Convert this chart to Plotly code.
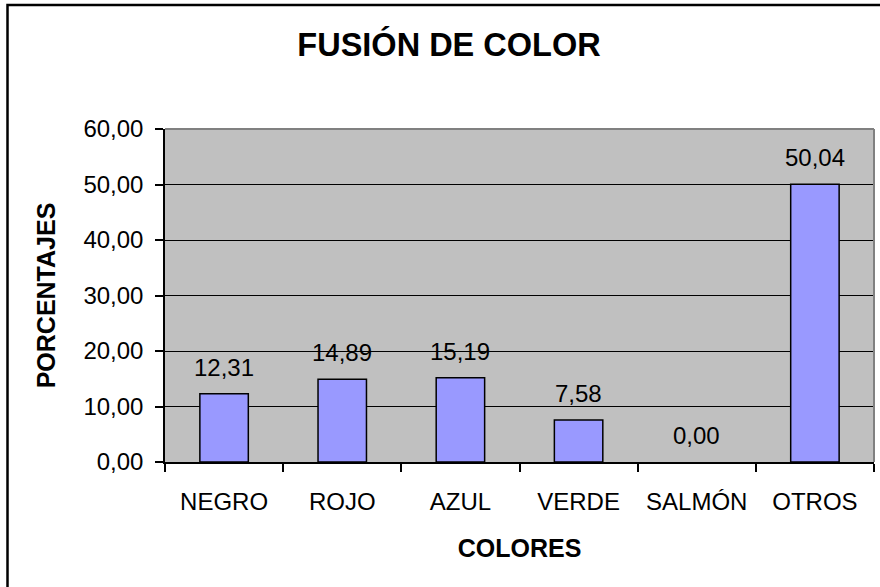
import plotly.graph_objects as go

categories = ["NEGRO", "ROJO", "AZUL", "VERDE", "SALMÓN", "OTROS"]
values = [12.31, 14.89, 15.19, 7.58, 0.00, 50.04]
title_text = "FUSIÓN DE COLOR"
x_title = "COLORES"
y_title = "PORCENTAJES"

W, H = 880, 587
L, R, T, B = 165, 6, 129, 125
pw, ph = W - L - R, H - T - B

FONT = "Liberation Sans, Arial, sans-serif"

fig = go.Figure()
fig.add_trace(go.Bar(
    x=categories, y=values,
    marker=dict(color="#9999FF",
                line=dict(color="black", width=[1.5 if v > 0 else 0 for v in values])),
    hoverinfo="skip",
))

annotations = []
for c, v in zip(categories, values):
    annotations.append(dict(
        x=c, y=v, xref="x", yref="y",
        text=f"{v:.2f}".replace(".", ","),
        showarrow=False, yanchor="bottom", yshift=11,
        font=dict(family=FONT, size=24, color="black"),
    ))

def px_x(p):
    return (p - L) / pw

def px_y(p):
    return (H - B - p) / ph

shapes = [
    dict(type="line", xref="paper", yref="paper", x0=0, x1=1, y0=1, y1=1,
         line=dict(color="#808080", width=2), layer="above"),
    dict(type="line", xref="paper", yref="paper", x0=1, x1=1, y0=0, y1=1,
         line=dict(color="#808080", width=2), layer="above"),
    dict(type="rect", xref="paper", yref="paper",
         x0=px_x(7.5), x1=px_x(895), y0=px_y(600), y1=px_y(5),
         line=dict(color="black", width=2.5), fillcolor="rgba(0,0,0,0)", layer="above"),
]

fig.update_layout(
    width=W, height=H,
    margin=dict(l=L, r=R, t=T, b=B, pad=0),
    paper_bgcolor="white",
    plot_bgcolor="#C0C0C0",
    separators=",.",
    showlegend=False,
    bargap=0.59,
    title=dict(text=f"<b>{title_text}</b>", x=449 / W, xref="container", xanchor="center",
               y=1 - 45 / H, yref="container", yanchor="middle",
               font=dict(family=FONT, size=32.5, color="black")),
    font=dict(family=FONT, size=24, color="black"),
    annotations=annotations,
    shapes=shapes,
)

fig.update_xaxes(
    showline=True, linecolor="black", linewidth=1.5,
    ticks="outside", tickson="boundaries", ticklen=8, tickcolor="black", tickwidth=1.5,
    showgrid=False,
    tickfont=dict(family=FONT, size=24, color="black"),
    ticklabelstandoff=17,
    title=dict(text=f"<b>{x_title}</b>", font=dict(family=FONT, size=25, color="black"), standoff=26),
)
fig.update_yaxes(
    range=[0, 60], dtick=10, tickformat=".2f",
    showline=True, linecolor="black", linewidth=1.5,
    ticks="outside", ticklen=8, tickcolor="black", tickwidth=1.5,
    showgrid=True, gridcolor="black", gridwidth=1.2,
    zeroline=False,
    tickfont=dict(family=FONT, size=24, color="black"),
    ticklabelstandoff=7,
    title=dict(text=f"<b>{y_title}</b>", font=dict(family=FONT, size=25, color="black"), standoff=21),
)

fig.write_html("out.html", config={"displayModeBar": False},
               post_script="document.body.style.margin='0';")
